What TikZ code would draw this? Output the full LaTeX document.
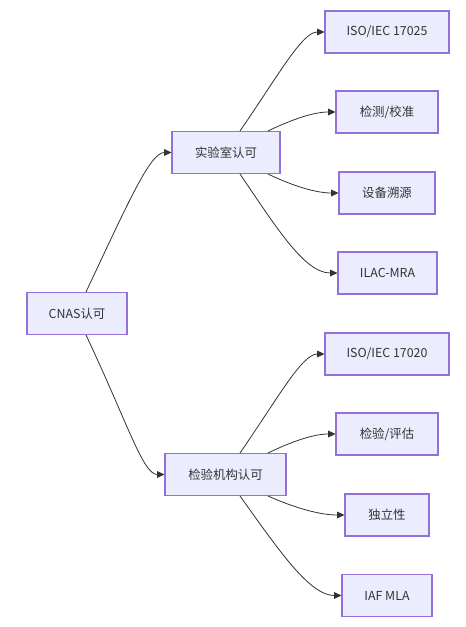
\documentclass[tikz,border=0pt]{standalone}
\usepackage{fontspec}
\setmainfont{Noto Sans CJK SC}
\usetikzlibrary{arrows.meta}
\definecolor{nodefill}{HTML}{ECECFF}
\definecolor{nodeline}{HTML}{9370DB}
\definecolor{edgecol}{HTML}{333333}
\begin{document}
\begin{tikzpicture}[x=0.75pt,y=-0.75pt,
  box/.style={draw=nodeline,fill=nodefill,line width=0.8pt,inner sep=0pt,
    minimum height=31.5pt,text=edgecol,font=\fontsize{9.3pt}{11pt}\selectfont},
  edge/.style={draw=edgecol,line width=0.6pt,-{Triangle[length=5.5pt,width=5pt]}}]
\useasboundingbox (0,0) rectangle (466,627);
\fill[white] (0,0) rectangle (466,627);
% nodes
\node[box,minimum width=75pt] (cnas) at (77,313.5) {CNAS认可};
\node[box,minimum width=81pt] (lab) at (226,152.5) {实验室认可};
\node[box,minimum width=90.75pt] (insp) at (225.5,474.5) {检验机构认可};
\node[box,minimum width=93pt] (iso1) at (387,32) {ISO/IEC 17025};
\node[box,minimum width=76.5pt] (cal) at (387,112) {检测/校准};
\node[box,minimum width=72pt] (trace) at (387,193) {设备溯源};
\node[box,minimum width=74.25pt] (ilac) at (387.5,273) {ILAC-MRA};
\node[box,minimum width=93pt] (iso2) at (387,354) {ISO/IEC 17020};
\node[box,minimum width=76.5pt] (ins2) at (387,434) {检验/评估};
\node[box,minimum width=63pt] (indep) at (387,515) {独立性};
\node[box,minimum width=67.5pt] (iaf) at (387,595.5) {IAF MLA};
% edges
\draw[edge] ([xshift=6.75pt]cnas.north) .. controls (128,203) and (150,152.5) .. (lab.west);
\draw[edge] ([xshift=6.75pt]cnas.south) .. controls (128,424) and (143,474.5) .. (insp.west);
\draw[edge] ([xshift=10.5pt]lab.north) .. controls (278,76) and (302,32) .. (iso1.west);
\draw[edge] ([xshift=31.5pt]lab.north) .. controls (293,119) and (314,112) .. (cal.west);
\draw[edge] ([xshift=31.5pt]lab.south) .. controls (293,186) and (316,193) .. (trace.west);
\draw[edge] ([xshift=10.5pt]lab.south) .. controls (278,230) and (305,273) .. (ilac.west);
\draw[edge] ([xshift=10.9pt]insp.north) .. controls (278,398) and (302,354) .. (iso2.west);
\draw[edge] ([xshift=31.9pt]insp.north) .. controls (293,441) and (314,434) .. (ins2.west);
\draw[edge] ([xshift=31.9pt]insp.south) .. controls (295,508) and (320,515) .. (indep.west);
\draw[edge] ([xshift=10.9pt]insp.south) .. controls (280,552) and (310,595.5) .. (iaf.west);
\end{tikzpicture}
\end{document}
